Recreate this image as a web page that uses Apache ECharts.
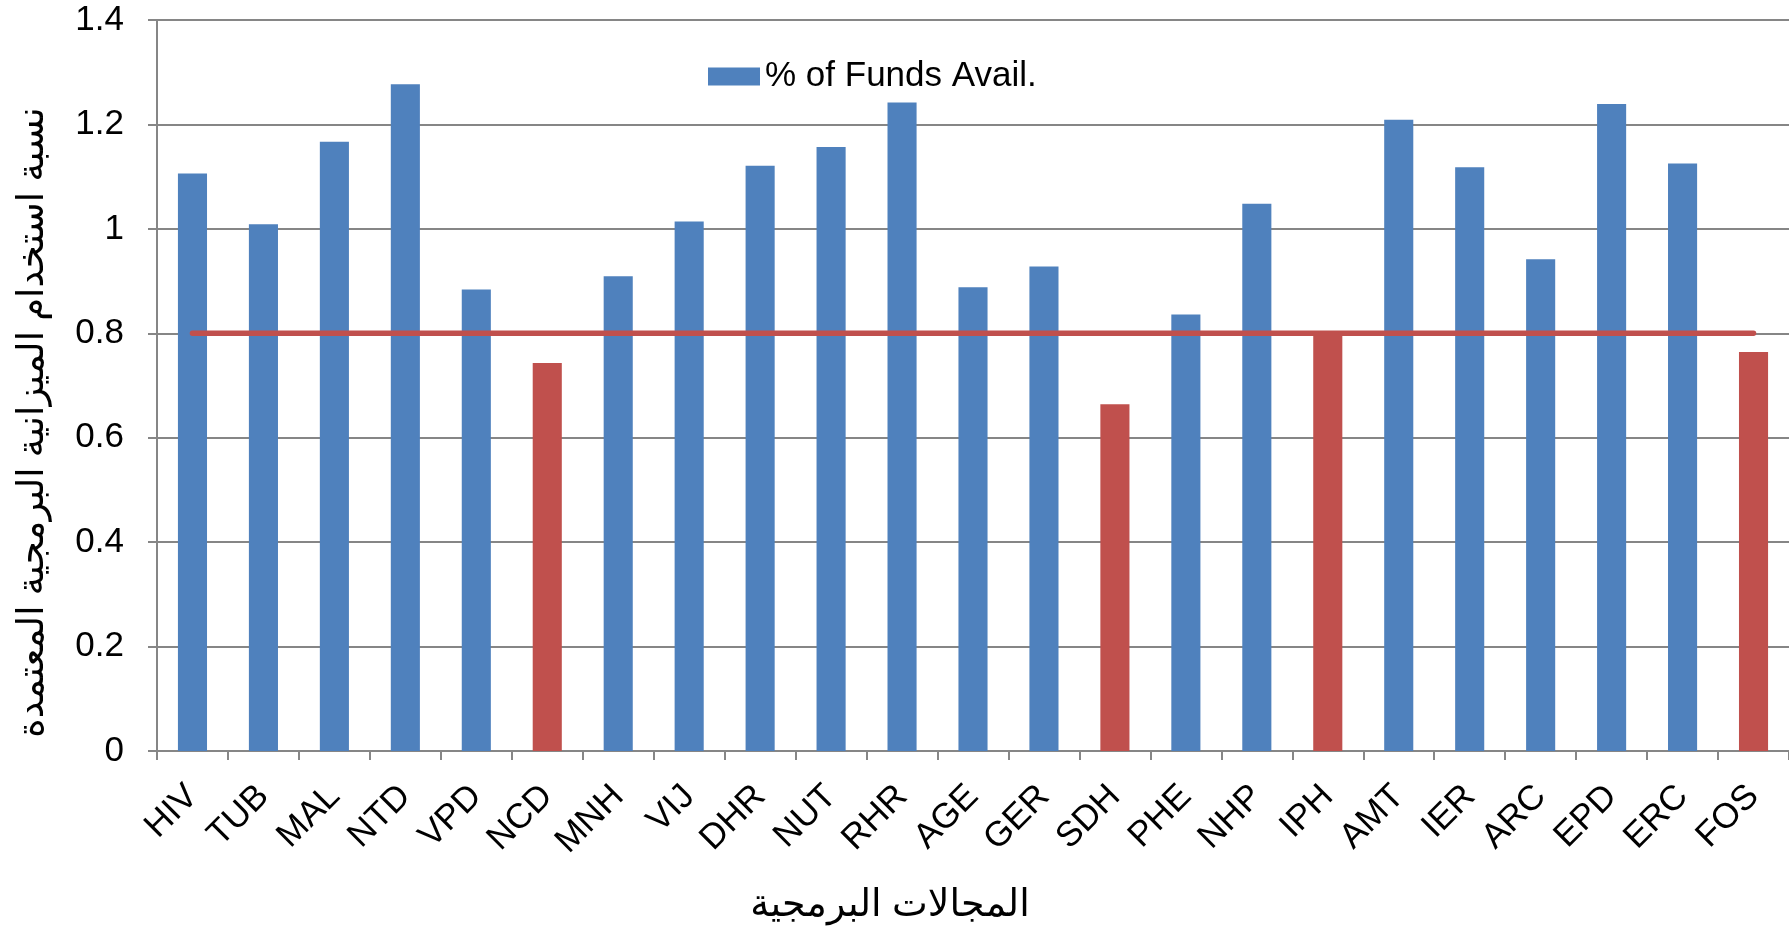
<!DOCTYPE html>
<html>
<head>
<meta charset="utf-8">
<script src="https://cdn.jsdelivr.net/npm/echarts@6/dist/echarts.min.js"></script>
<style>
  html, body { margin: 0; padding: 0; background: #fff; }
  #chart { width: 1789px; height: 932px; }
</style>
</head>
<body>
<div id="chart"></div>
<script>
const categories = ['HIV', 'TUB', 'MAL', 'NTD', 'VPD', 'NCD', 'MNH', 'VIJ', 'DHR', 'NUT', 'RHR', 'AGE',
  'GER', 'SDH', 'PHE', 'NHP', 'IPH', 'AMT', 'IER', 'ARC', 'EPD', 'ERC', 'FOS']
const fundsAvail = [1.106, 1.009, 1.167, 1.277, 0.884, 0.743, 0.909, 1.014, 1.121, 1.157, 1.242, 0.888,
  0.928, 0.664, 0.836, 1.048, 0.795, 1.209, 1.118, 0.942, 1.239, 1.125, 0.764]
const targetLine = [0.8, 0.8, 0.8, 0.8, 0.8, 0.8, 0.8, 0.8, 0.8, 0.8, 0.8, 0.8,
  0.8, 0.8, 0.8, 0.8, 0.8, 0.8, 0.8, 0.8, 0.8, 0.8, 0.8]
const yTicks = [0, 0.2, 0.4, 0.6, 0.8, 1, 1.2, 1.4]

const BLUE = '#4F81BD'
const RED = '#C0504D'
const FONT = "'Liberation Sans', Arial, 'DejaVu Sans', sans-serif"

const myChart = echarts.init(document.getElementById('chart'))
myChart.setOption({
  animation: false,
  color: [BLUE, RED],
  textStyle: { fontFamily: FONT, color: '#000' },
  grid: { left: 157, right: 0, top: 20, bottom: 181 },
  legend: {
    data: [{ name: '% of Funds Avail.', icon: 'rect', itemStyle: { color: BLUE } }],
    left: 703,
    top: 54,
    itemWidth: 52,
    itemHeight: 18,
    itemGap: 8,
    textStyle: { fontSize: 35, fontFamily: FONT, color: '#000' },
  },
  xAxis: {
    type: 'category',
    data: categories,
    name: 'المجالات البرمجية',
    nameLocation: 'middle',
    nameGap: 136,
    nameTextStyle: { fontSize: 38, fontFamily: FONT, color: '#000', padding: [0, 166, 0, 0] },
    axisLine: { lineStyle: { color: '#868686', width: 2 } },
    axisTick: { show: true, length: 9, lineStyle: { color: '#868686', width: 2 } },
    axisLabel: { rotate: 45, fontSize: 35, color: '#000', margin: 40, interval: 0 },
  },
  yAxis: {
    type: 'value',
    min: yTicks[0],
    max: yTicks[yTicks.length - 1],
    interval: 0.2,
    name: 'نسبة استخدام الميزانية البرمجية المعتمدة',
    nameLocation: 'middle',
    nameGap: 106,
    nameTextStyle: { fontSize: 37, fontFamily: FONT, color: '#000', padding: [0, 74, 0, 0] },
    axisLine: { show: true, lineStyle: { color: '#868686', width: 2 } },
    axisTick: { show: true, length: 9, lineStyle: { color: '#868686', width: 2 } },
    axisLabel: { fontSize: 35, color: '#000', margin: 33 },
    splitLine: { lineStyle: { color: '#868686', width: 2 } },
  },
  series: [
    {
      name: '% of Funds Avail.',
      type: 'bar',
      data: fundsAvail,
      barWidth: '41%',
      itemStyle: {
        color: params => (params.value < 0.8 ? RED : BLUE),
      },
      z: 2,
    },
    {
      name: 'target',
      type: 'line',
      data: targetLine,
      showSymbol: false,
      symbol: 'none',
      lineStyle: { color: RED, width: 5.5, cap: 'round' },
      z: 3,
    },
  ],
})
</script>
</body>
</html>
